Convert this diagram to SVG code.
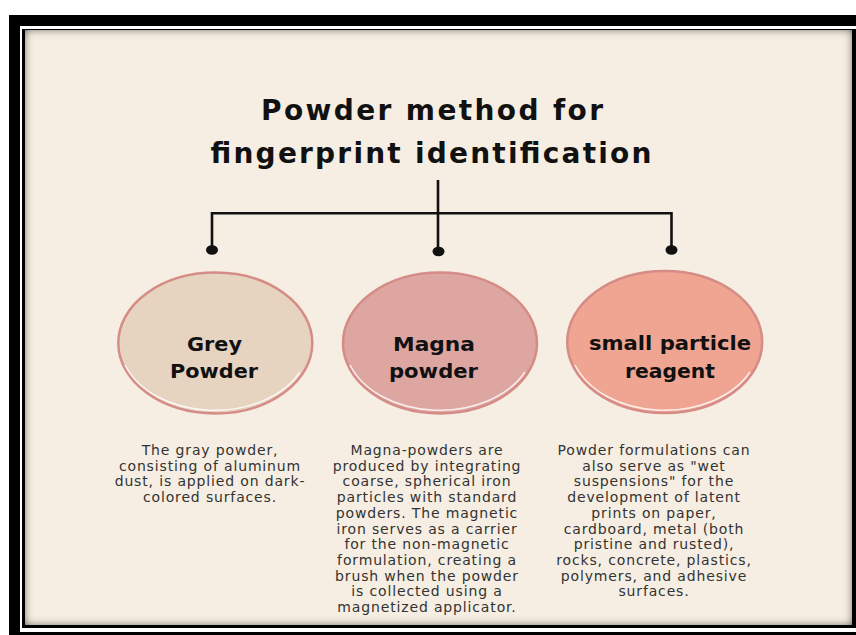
<svg xmlns="http://www.w3.org/2000/svg" width="856" height="635" viewBox="0 0 856 635">
  <defs>
    <filter id="inset" x="-5%" y="-5%" width="110%" height="110%">
      <feFlood flood-color="#000" result="f"/>
      <feComposite in="f" in2="SourceAlpha" operator="out" result="outside"/>
      <feGaussianBlur in="outside" stdDeviation="4.5" result="blur"/>
      <feComposite in="blur" in2="SourceAlpha" operator="in" result="shadow"/>
      <feMerge>
        <feMergeNode in="SourceGraphic"/>
        <feMergeNode in="shadow"/>
      </feMerge>
    </filter>
  </defs>
  <style>
    .title { font-family: "DejaVu Sans", sans-serif; font-weight: 700; font-size: 28px; fill: #111; text-anchor: middle; }
    .label { font-family: "DejaVu Sans", sans-serif; font-weight: 700; font-size: 19px; fill: #111; text-anchor: middle; }
    .desc { font-family: "DejaVu Sans", sans-serif; font-size: 14px; fill: #333; text-anchor: middle; letter-spacing: 0.85px; }
    .node-shape { stroke: #D58C86; stroke-width: 2.5; }
    .hl { fill: none; stroke: #fff; stroke-width: 1.6; stroke-opacity: 0.8; }
    .conn { fill: none; stroke: #111; stroke-width: 2.6; }
    .dot { fill: #111; }
  </style>

  <!-- frame -->
  <rect x="0" y="0" width="856" height="635" fill="#fff"/>
  <rect x="9" y="15" width="847" height="620" fill="#000"/>
  <rect x="20" y="26" width="836" height="606" fill="#fff"/>
  <rect x="22" y="29" width="834" height="599" fill="#000"/>
  <rect x="25" y="30" width="827" height="595" fill="#F6EEE2" filter="url(#inset)"/>

  <!-- title -->
  <g id="title">
    <text class="title" x="432" y="120" textLength="342" lengthAdjust="spacing">Powder method for</text>
    <text class="title" x="431" y="163" textLength="441" lengthAdjust="spacing">fingerprint identification</text>
  </g>

  <!-- connectors -->
  <g id="connectors">
    <path class="conn" d="M438 180 V251.5"/>
    <path class="conn" d="M212 250 V213.3 H671.5 V250"/>
    <ellipse class="dot" cx="212" cy="250" rx="6" ry="4.8"/>
    <ellipse class="dot" cx="438.5" cy="251.5" rx="6" ry="4.8"/>
    <ellipse class="dot" cx="671.5" cy="250" rx="6" ry="4.8"/>
  </g>

  <!-- nodes -->
  <g id="node-grey">
    <ellipse class="node-shape" cx="215.3" cy="343" rx="97" ry="70.5" fill="#E6D3C0"/>
    <path class="hl" d="M125 365 A95 68 0 0 0 300 372"/>
    <text class="label" x="214.5" y="351" textLength="55" lengthAdjust="spacingAndGlyphs">Grey</text>
    <text class="label" x="214" y="378" textLength="88" lengthAdjust="spacingAndGlyphs">Powder</text>
  </g>

  <g id="node-magna">
    <ellipse class="node-shape" cx="440" cy="343" rx="97" ry="70.5" fill="#DDA6A1"/>
    <path class="hl" d="M350 365 A95 68 0 0 0 525 372"/>
    <text class="label" x="434" y="351" textLength="82" lengthAdjust="spacingAndGlyphs">Magna</text>
    <text class="label" x="433.5" y="378" textLength="89" lengthAdjust="spacingAndGlyphs">powder</text>
  </g>

  <g id="node-small">
    <ellipse class="node-shape" cx="664.7" cy="342" rx="97.5" ry="71" fill="#F0A492"/>
    <path class="hl" d="M575 365 A95 68 0 0 0 750 372"/>
    <text class="label" x="670" y="350" textLength="162" lengthAdjust="spacingAndGlyphs">small particle</text>
    <text class="label" x="670" y="377.5" textLength="90" lengthAdjust="spacingAndGlyphs">reagent</text>
  </g>

  <!-- descriptions -->
  <g id="desc-grey">
    <text class="desc" x="210" y="455">The gray powder,</text>
    <text class="desc" x="210" y="470.7">consisting of aluminum</text>
    <text class="desc" x="210" y="486.4">dust, is applied on dark-</text>
    <text class="desc" x="210" y="502.1">colored surfaces.</text>
  </g>

  <g id="desc-magna">
    <text class="desc" x="427" y="455">Magna-powders are</text>
    <text class="desc" x="427" y="470.7">produced by integrating</text>
    <text class="desc" x="427" y="486.4">coarse, spherical iron</text>
    <text class="desc" x="427" y="502.1">particles with standard</text>
    <text class="desc" x="427" y="517.8">powders. The magnetic</text>
    <text class="desc" x="427" y="533.5">iron serves as a carrier</text>
    <text class="desc" x="427" y="549.2">for the non-magnetic</text>
    <text class="desc" x="427" y="564.9">formulation, creating a</text>
    <text class="desc" x="427" y="580.6">brush when the powder</text>
    <text class="desc" x="427" y="596.3">is collected using a</text>
    <text class="desc" x="427" y="612">magnetized applicator.</text>
  </g>

  <g id="desc-small">
    <text class="desc" x="654" y="455">Powder formulations can</text>
    <text class="desc" x="654" y="470.7">also serve as "wet</text>
    <text class="desc" x="654" y="486.4">suspensions" for the</text>
    <text class="desc" x="654" y="502.1">development of latent</text>
    <text class="desc" x="654" y="517.8">prints on paper,</text>
    <text class="desc" x="654" y="533.5">cardboard, metal (both</text>
    <text class="desc" x="654" y="549.2">pristine and rusted),</text>
    <text class="desc" x="654" y="564.9">rocks, concrete, plastics,</text>
    <text class="desc" x="654" y="580.6">polymers, and adhesive</text>
    <text class="desc" x="654" y="596.3">surfaces.</text>
  </g>
</svg>
